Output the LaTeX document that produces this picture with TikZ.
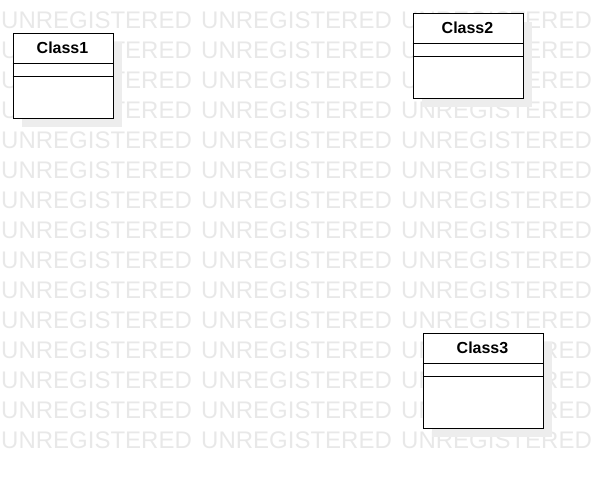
\documentclass[tikz,border=0pt]{standalone}
\usepackage{fontspec}
\setmainfont{Liberation Sans}

\begin{document}
\begin{tikzpicture}[x=1pt,y=-1pt,
  wmtext/.style={text=black!9, font=\fontsize{24}{24}\selectfont, inner sep=0pt, anchor=base west},
  classbox/.style={draw=black, fill=white, line width=1.1pt, anchor=north west, inner sep=0pt},
  classname/.style={font=\bfseries\fontsize{16}{16}\selectfont, inner sep=0pt}]
\useasboundingbox (0,0) rectangle (592,477);

% watermark
\foreach \r in {0,1,...,14} {
\foreach \c in {0,1,2} {
\node[wmtext] (wm-\r-\c) at (200*\c+1, 28.5+30*\r) {UNREGISTERED};
}
}

% classes
\foreach \n/\x/\y/\w/\h in {1/12.5/32.5/100/85, 2/412.5/12.5/110/85, 3/422.5/332.5/120/95} {
\fill[black!7] (\x+9,\y+9) rectangle ++(\w,\h);
\node[classbox, minimum width=\w pt, minimum height=\h pt] (c\n) at (\x,\y) {};
\node[classname] (c\n-name) at (\x+\w/2, \y+15.5) {Class\n};
\draw[line width=1.1pt] (c\n.north west) ++(0,31) -- ++(\w,0);
\draw[line width=1.1pt] (c\n.north west) ++(0,44) -- ++(\w,0);
}

\end{tikzpicture}
\end{document}
